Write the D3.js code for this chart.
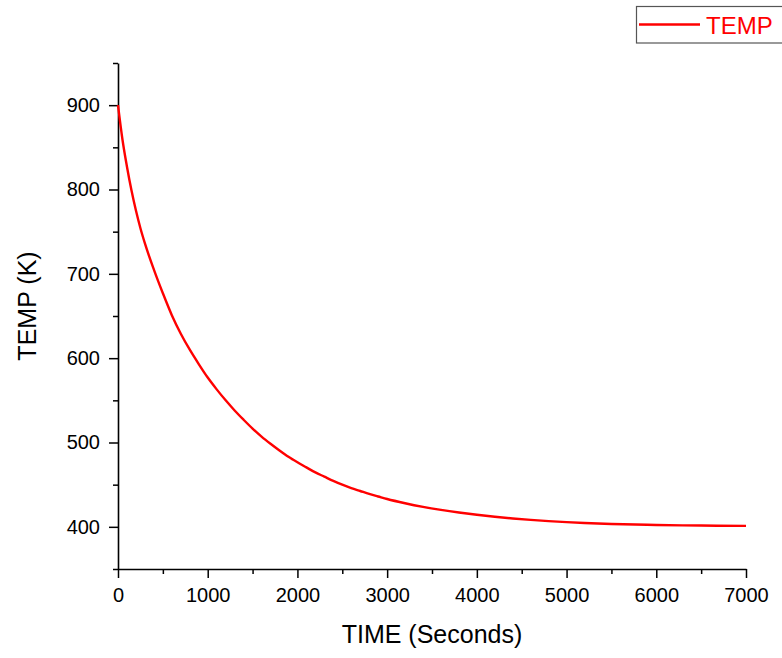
<!DOCTYPE html>
<html>
<head>
<meta charset="utf-8">
<script src="https://cdn.jsdelivr.net/npm/d3@7"></script>
<style>
  html, body { margin: 0; padding: 0; background: #fff; }
  svg { display: block; }
  text { font-family: "Liberation Sans", Arial, sans-serif; }
</style>
</head>
<body>
<svg id="chart" width="782" height="658"></svg>
<script>
// Data
const timeSeconds = [0, 50, 100, 150, 200, 250, 300, 400, 500, 600, 700, 800, 900, 1000,
  1100, 1200, 1300, 1400, 1500, 1600, 1700, 1800, 1900, 2000, 2100, 2200, 2300, 2400,
  2500, 2600, 2700, 2800, 2900, 3000, 3200, 3400, 3600, 3800, 4000, 4200, 4400, 4600,
  4800, 5000, 5200, 5500, 6000, 6500, 7000];
const tempK = [900, 859, 827, 799, 775, 754, 736, 705, 677, 651, 629, 610, 593, 577,
  563, 550, 538, 527, 516.5, 507, 498.5, 490.5, 483, 476.5, 470.5, 464.5, 459.5, 454.5,
  450, 446, 442.5, 439, 436, 433, 428, 423.7, 420.1, 417, 414.3, 411.9, 409.9, 408.2,
  406.8, 405.6, 404.6, 403.4, 402.2, 401.5, 401.1];
const xTicks = [0, 1000, 2000, 3000, 4000, 5000, 6000, 7000];
const yTicks = [400, 500, 600, 700, 800, 900];
const seriesName = "TEMP";
const xTitle = "TIME (Seconds)";
const yTitle = "TEMP (K)";

(function () {
const svg = d3.select("#chart");
const mLeft = 118, mRight = 746, mTop = 63, mBottom = 569;

const x = d3.scaleLinear().domain([0, 7000]).range([mLeft, mRight]);
const y = d3.scaleLinear().domain([350, 950]).range([mBottom, mTop]);

const xMinor = d3.range(0, 7001, 500).filter(v => !xTicks.includes(v));
const yMinor = d3.range(350, 951, 50).filter(v => !yTicks.includes(v));

// Minor ticks
svg.append("g").attr("transform", `translate(0,${mBottom})`)
  .call(d3.axisBottom(x).tickValues(xMinor).tickSize(5).tickFormat(""))
  .call(g => g.select(".domain").remove())
  .call(g => g.selectAll("line").attr("stroke", "#000").attr("stroke-width", 1.5));
svg.append("g").attr("transform", `translate(${mLeft},0)`)
  .call(d3.axisLeft(y).tickValues(yMinor).tickSize(5).tickFormat(""))
  .call(g => g.select(".domain").remove())
  .call(g => g.selectAll("line").attr("stroke", "#000").attr("stroke-width", 1.5));

// Major axes
const xAxis = svg.append("g").attr("transform", `translate(0,${mBottom})`)
  .call(d3.axisBottom(x).tickValues(xTicks).tickSize(9).tickSizeOuter(0).tickPadding(10).tickFormat(d3.format("d")));
const yAxis = svg.append("g").attr("transform", `translate(${mLeft},0)`)
  .call(d3.axisLeft(y).tickValues(yTicks).tickSize(9).tickSizeOuter(0).tickPadding(9).tickFormat(d3.format("d")));

[xAxis, yAxis].forEach(g => {
  g.select(".domain").attr("stroke", "#000").attr("stroke-width", 1.6);
  g.selectAll(".tick line").attr("stroke", "#000").attr("stroke-width", 1.5);
  g.selectAll(".tick text").attr("fill", "#000")
    .style("font-family", '"Liberation Sans", Arial, sans-serif')
    .style("font-size", "20px");
});

// Line
const line = d3.line()
  .x((d, i) => x(timeSeconds[i]))
  .y(d => y(d))
  .curve(d3.curveMonotoneX);
svg.append("path")
  .datum(tempK)
  .attr("fill", "none")
  .attr("stroke", "#ff0000")
  .attr("stroke-width", 2.4)
  .attr("d", line);

// Axis titles
svg.append("text")
  .attr("x", (mLeft + mRight) / 2)
  .attr("y", 643)
  .attr("text-anchor", "middle")
  .attr("fill", "#000")
  .style("font-size", "25px")
  .text(xTitle);
svg.append("text")
  .attr("transform", `translate(36,306) rotate(-90)`)
  .attr("text-anchor", "middle")
  .attr("fill", "#000")
  .style("font-size", "25px")
  .text(yTitle);

// Legend
const lg = svg.append("g");
lg.append("rect")
  .attr("x", 636.5).attr("y", 6.5)
  .attr("width", 160).attr("height", 36.5)
  .attr("fill", "#fff").attr("stroke", "#555").attr("stroke-width", 1.2);
lg.append("line")
  .attr("x1", 639).attr("x2", 700).attr("y1", 24.5).attr("y2", 24.5)
  .attr("stroke", "#ff0000").attr("stroke-width", 2.4);
lg.append("text")
  .attr("x", 706).attr("y", 33.5)
  .attr("fill", "#ff0000")
  .style("font-size", "24px")
  .text(seriesName);
})();
</script>
</body>
</html>
